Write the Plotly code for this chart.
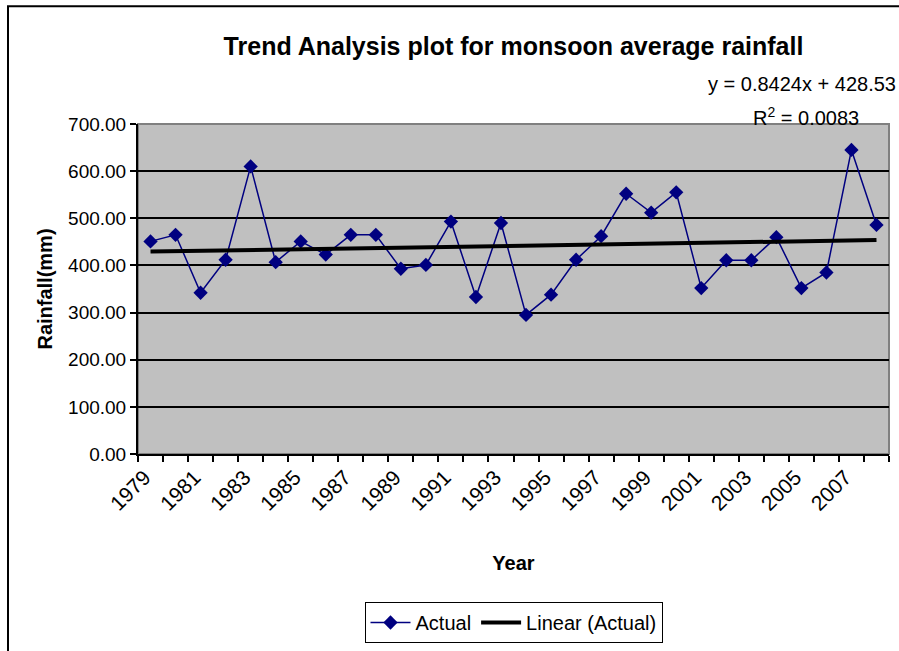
import plotly.graph_objects as go

years = list(range(1979, 2009))
rainfall = [451, 465, 342, 412, 610, 407, 451, 423, 465, 465,
            393, 401, 493, 333, 490, 295, 338, 412, 462, 552,
            512, 555, 352, 411, 411, 460, 352, 385, 645, 486]
label_years = list(range(1979, 2008, 2))
trend_slope = 0.8424
trend_intercept = 428.53
y_ticks = [0, 100, 200, 300, 400, 500, 600, 700]

trend = [trend_slope * (i + 1) + trend_intercept for i in range(len(years))]

FONT = "Liberation Sans Narrow, Arial Narrow, Liberation Sans, Arial, sans-serif"

fig = go.Figure()
fig.add_trace(go.Scatter(
    x=years, y=rainfall, name="Actual", mode="lines+markers",
    line=dict(color="#000080", width=1.5),
    marker=dict(symbol="diamond", size=11, color="#000080"),
))
fig.add_trace(go.Scatter(
    x=years, y=trend, name="Linear (Actual)", mode="lines",
    line=dict(color="black", width=4),
))
# dummy trace to host the labelled axis
fig.add_trace(go.Scatter(x=[years[0]], y=[None], xaxis="x2", showlegend=False,
                         hoverinfo="skip"))

boundaries = [y - 0.5 for y in years] + [years[-1] + 0.5]

fig.update_layout(
    width=899, height=651,
    margin=dict(l=138, r=10, t=124, b=196),
    paper_bgcolor="white", plot_bgcolor="#C0C0C0",
    font=dict(family=FONT, size=20, color="black"),
    title=dict(text="<b>Trend Analysis plot for monsoon average rainfall</b>",
               x=0.5, xref="paper", xanchor="center", y=1 - 46 / 651,
               yanchor="middle", font=dict(size=25, family=FONT)),
    xaxis=dict(range=[1978.5, 2008.5], tickmode="array", tickvals=boundaries,
               showticklabels=False, ticks="outside", ticklen=6,
               tickcolor="black", tickwidth=1.5, showgrid=False, zeroline=False,
               showline=True, linecolor="black", linewidth=2, automargin=False),
    xaxis2=dict(overlaying="x", matches="x", anchor="y", side="bottom",
                tickmode="array", tickvals=label_years,
                ticktext=[str(y) for y in label_years], tickangle=-45,
                ticks="", showgrid=False, zeroline=False, showline=False,
                tickfont=dict(size=21), automargin=False,
                ticklabelstandoff=6, ticklabelshift=-6,
                title=dict(text="<b>Year</b>", standoff=42, font=dict(size=20))),
    yaxis=dict(range=[0, 700], tickmode="array", tickvals=y_ticks,
               ticktext=[f"{v:.2f}" for v in y_ticks], ticks="outside",
               ticklen=6, tickcolor="black", tickwidth=1.5,
               showgrid=True, gridcolor="black", gridwidth=1.5,
               zeroline=False, showline=True, linecolor="black", linewidth=2,
               tickfont=dict(size=19), automargin=False,
               title=dict(text="<b>Rainfall(mm)</b>", standoff=10,
                          font=dict(size=20))),
    legend=dict(orientation="h", x=0.5, xanchor="center", y=(455 - 602) / 331,
                yanchor="top", bordercolor="black", borderwidth=1,
                bgcolor="white", font=dict(size=20), itemwidth=40,
                traceorder="normal"),
    showlegend=True,
)

fig.add_shape(type="rect", xref="paper", yref="paper", x0=0, x1=1, y0=0, y1=1,
              line=dict(color="#808080", width=2), layer="below")
fig.add_shape(type="rect", xref="paper", yref="paper",
              x0=(8 - 138) / 751, x1=(910 - 138) / 751,
              y0=(455 - 665) / 331, y1=(455 - 6) / 331,
              line=dict(color="black", width=2))

fig.add_annotation(text=f"y = {trend_slope}x + {trend_intercept}",
                   xref="paper", yref="paper", x=(898 - 138) / 751,
                   y=(455 - 84) / 331, xanchor="right", yanchor="middle",
                   showarrow=False, font=dict(size=20))
fig.add_annotation(text="R<sup>2</sup> = 0.0083",
                   xref="paper", yref="paper", x=(806 - 138) / 751,
                   y=(455 - 116) / 331, xanchor="center", yanchor="middle",
                   showarrow=False, font=dict(size=20))

fig.write_html("out.html", config={"displayModeBar": False},
               post_script="document.body.style.margin='0';")
